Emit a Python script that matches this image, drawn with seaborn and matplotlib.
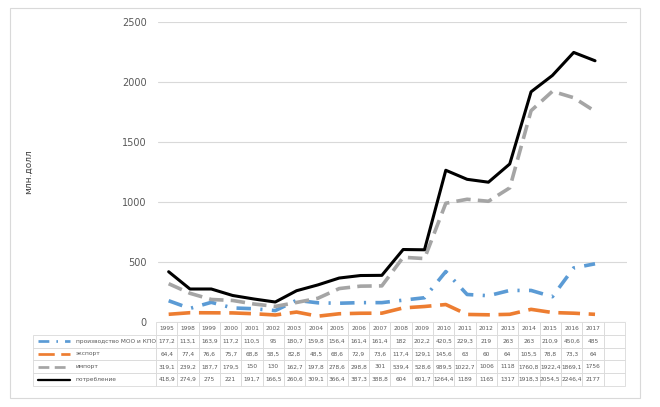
import seaborn as sns
import matplotlib.pyplot as plt
from matplotlib.patches import Rectangle
import pandas as pd
import numpy as np

years = ['1995', '1998', '1999', '2000', '2001', '2002', '2003', '2004', '2005', '2006', '2007',
         '2008', '2009', '2010', '2011', '2012', '2013', '2014', '2015', '2016', '2017']
production = [177.2, 113.1, 163.9, 117.2, 110.5, 95, 180.7, 159.8, 156.4, 161.4, 161.4,
              182, 202.2, 420.5, 229.3, 219, 263, 263, 210.9, 450.6, 485]
export = [64.4, 77.4, 76.6, 75.7, 68.8, 58.5, 82.8, 48.5, 68.6, 72.9, 73.6,
          117.4, 129.1, 145.6, 63, 60, 64, 105.5, 78.8, 73.3, 64]
imports = [319.1, 239.2, 187.7, 179.5, 150, 130, 162.7, 197.8, 278.6, 298.8, 301,
           539.4, 528.6, 989.5, 1022.7, 1006, 1118, 1760.8, 1922.4, 1869.1, 1756]
consumption = [418.9, 274.9, 275, 221, 191.7, 166.5, 260.6, 309.1, 366.4, 387.3, 388.8,
               604, 601.7, 1264.4, 1189, 1165, 1317, 1918.3, 2054.5, 2246.4, 2177]
labels = ['производство МОО и КПО', 'экспорт', 'импорт', 'потребление']

series = [production, export, imports, consumption]
colors = ['#5B9BD5', '#ED7D31', '#A5A5A5', '#000000']
styles = [(0, (4, 2.6, 0.6, 2.6)), (0, (6, 2.4)), (0, (4, 2)), '-']
widths = [2.6, 2.6, 2.6, 2.2]

sns.set_style('white')
plt.rcParams['font.family'] = ['DejaVu Sans']

fig = plt.figure(figsize=(6.6, 4.07), dpi=100)
ax = fig.add_axes([158 / 660, 1 - 322 / 407, 469 / 660, 300 / 407])

x = np.arange(len(years))
for vals, lab, c, ls, lw in zip(series, labels, colors, styles, widths):
    sns.lineplot(x=x, y=vals, ax=ax, color=c, linestyle=ls, linewidth=lw, label=lab)

ax.get_legend().remove()
ax.set_xlim(-0.5, len(years) + 0.5)
ax.set_ylim(0, 2500)
ax.set_yticks([0, 500, 1000, 1500, 2000, 2500])
ax.tick_params(axis='y', labelsize=7, colors='#595959', length=0, pad=8)
ax.set_xticks([])
ax.yaxis.grid(True, color='#D9D9D9', linewidth=0.8)
ax.set_axisbelow(True)
for s in ax.spines.values():
    s.set_visible(False)
ax.set_ylabel('млн.долл', fontsize=6.5, color='#404040')
ax.yaxis.set_label_coords((33 - 158) / 469, 0.5)

# data table under the chart
def fmt(v):
    return ('%g' % v).replace('.', ',')

ncols = len(years) + 1
cell_text = [[''] + [fmt(v) for v in vals] + [''] for vals in series]
col_labels = [''] + years + ['']
label_w = 123
data_w = 469 / ncols
tab_y0 = (322 - 386) / 300
tab_h = 64 / 300
tab = ax.table(cellText=cell_text, colLabels=col_labels, cellLoc='center',
               bbox=[(33 - 158) / 469, tab_y0, (label_w + 469) / 469, tab_h])
tab.auto_set_font_size(False)
tab.set_fontsize(4.2)
for (r, c), cell in tab.get_celld().items():
    cell.set_edgecolor('#D9D9D9')
    cell.set_linewidth(0.6)
    cell.set_width(label_w if c == 0 else data_w)
    cell.PAD = 0.02
    cell.get_text().set_color('#595959')
    if r == 0 and c == 0:
        cell.visible_edges = ''

nrows = len(series) + 1
for i, (lab, c, ls, lw) in enumerate(zip(labels, colors, styles, widths)):
    yc = tab_y0 + tab_h * (1 - (i + 1.5) / nrows)
    ax.plot([(38 - 158) / 469, (70 - 158) / 469], [yc, yc], transform=ax.transAxes,
            color=c, linestyle=ls, linewidth=lw * 0.75, clip_on=False)
    ax.text((76 - 158) / 469, yc, lab, transform=ax.transAxes, fontsize=4.2,
            color='#595959', va='center', ha='left')

fig.patches.append(Rectangle((10 / 660, 1 - 398 / 407), 630 / 660, 390 / 407,
                             transform=fig.transFigure, fill=False,
                             edgecolor='#D9D9D9', linewidth=0.8))

fig.savefig('out.png', dpi=100)
